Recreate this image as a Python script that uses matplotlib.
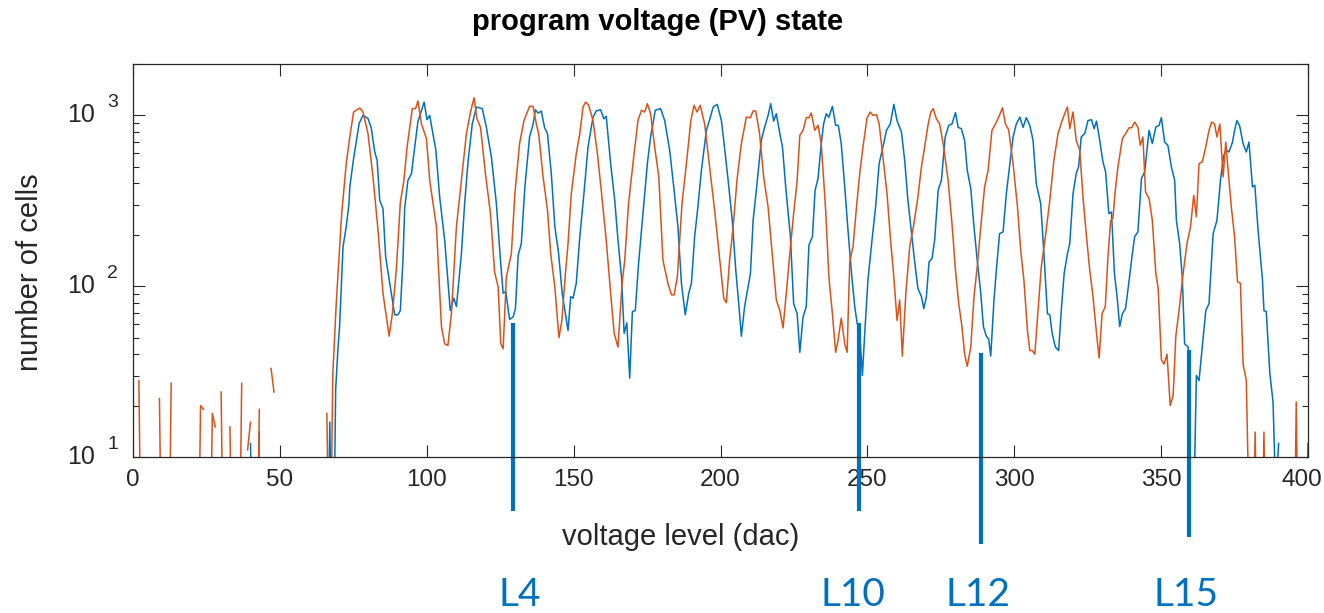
import numpy as np
import matplotlib
matplotlib.use("Agg")
import matplotlib.pyplot as plt
from matplotlib.ticker import NullLocator, NullFormatter, LogLocator
from matplotlib.transforms import blended_transform_factory, ScaledTranslation

plt.rcParams['font.family'] = ['Liberation Sans', 'DejaVu Sans']

# ---- data (0 = empty bin, not drawn on log axis) ----
orange_x = [0, 1, 2, 3, 4, 8, 9, 10, 11, 12, 13, 14, 21, 22, 23, 24, 25, 26, 27, 28,
            29, 30, 31, 32, 33, 34, 35, 36, 37, 38, 39, 40, 41, 42, 43, 44, 46, 47, 48, 49,
            65, 66, 67, 68, 69.2, 71.0, 72.6, 73.8, 75.1, 77.2, 78.3, 80.0, 81.7, 83.4, 85.1,
            87.2, 88.3, 89.7, 91.0, 92.2, 93.3, 95.1, 96.2, 97.0, 98.2, 99.9, 101.0, 103.3,
            105.0, 106.1, 107.2, 108.4, 110.1, 111.8, 113.5, 114.9, 116.1, 117.1, 118.3, 120.1,
            121.7, 123.1, 124.3, 125.2, 126.0, 127.1, 128.8, 130.0, 131.6, 133.1, 135.0, 136.2,
            137.3, 138.1, 139.6, 141.1, 142.2, 143.6, 145.0, 146.0, 147.2, 148.1, 149.2, 150.9,
            152.1, 153.2, 154.1, 155.1, 156.6, 158.1, 159.4, 161.1, 162.6, 163.8, 165.1, 166.5,
            167.4, 168.7, 170.2, 171.9, 173.1, 174.2, 175.1, 176.2, 177.6, 179.0, 180.4, 182.1,
            183.3, 184.2, 185.3, 186.9, 188.4, 189.9, 191.0, 192.0, 193.1, 194.6, 196.3, 198.0,
            199.7, 201.1, 202.0, 203.1, 204.3, 205.6, 207.1, 208.8, 210.2, 211.1, 212.0, 213.3,
            214.7, 216.2, 217.3, 219.0, 220.2, 221.3, 222.4, 223.6, 224.9, 226.1, 227.0, 228.1,
            229.2, 230.1, 230.9, 232.1, 233.2, 234.3, 235.8, 236.9, 238.1, 239.2, 240.0, 241.1,
            242.3, 243.1, 244.0, 245.1, 246.3, 247.4, 248.5, 249.9, 251.0, 251.9, 253.1, 254.0,
            255.3, 256.7, 257.8, 258.9, 260.1, 261.0, 261.9, 263.1, 264.4, 265.8, 267.2, 268.4,
            269.5, 270.7, 271.6, 272.4, 273.5, 274.6, 275.8, 277.5, 278.8, 280.0, 281.1, 282.2,
            283.1, 284.0, 285.2, 286.3, 287.4, 288.6, 289.9, 291.1, 292.4, 293.6, 294.7, 296.0,
            297.0, 298.1, 299.6, 301.1, 302.2, 303.3, 304.5, 305.3, 306.1, 307.0, 308.1, 309.2,
            310.6, 312.1, 313.5, 314.9, 316.3, 317.4, 318.1, 318.9, 320.0, 321.1, 322.3, 323.4,
            324.5, 325.7, 326.8, 328.0, 328.9, 329.9, 331.0, 331.9, 332.8, 333.6, 334.4, 335.3,
            336.8, 337.9, 339.1, 340.0, 341.0, 342.1, 342.9, 343.8, 344.7, 345.9, 347.0, 348.2,
            349.0, 350.1, 351.0, 352.0, 353.1, 354.1, 355.0, 356.1, 357.5, 358.8, 360.0, 361.1,
            362.0, 362.9, 364.0, 365.2, 366.3, 367.2, 368.2, 369.0, 370.0, 371.1, 372.0, 372.8,
            373.9, 375.0, 376.0, 377.0, 377.9, 379.0, 380, 381, 382, 383, 384, 385, 386, 387,
            394, 395, 396, 397, 398, 400]
orange_y = [0, 0, 28, 1, 0, 0, 22, 1, 0, 1, 27, 0, 0, 1, 20, 19, 0, 1, 18, 15,
            0, 24, 1, 0, 15, 1, 0, 1, 27, 0, 11, 16, 0, 1, 19, 0, 0, 33, 24, 0,
            0, 18, 1, 30, 80, 260, 525, 748, 1047, 1104, 1047, 782, 437, 213, 91,
            51, 69, 129, 309, 413, 653, 1097, 1097, 1214, 891, 731, 417, 223,
            58, 46, 45, 69, 223, 417, 782, 1047, 1270, 955, 851, 437,
            266, 121, 99, 46, 43, 113, 155, 347, 684, 933, 1130, 1130,
            891, 782, 437, 279, 155, 99, 50, 63, 118, 178, 347, 597,
            782, 1122, 1197, 1150, 933, 597, 365, 186, 91, 53, 44, 104,
            142, 305, 522, 933, 1072, 1047, 1172, 1023, 653, 437, 142, 104,
            89, 89, 113, 305, 522, 933, 1146, 1047, 1146, 891, 499, 279,
            145, 85, 80, 142, 222, 417, 684, 977, 970, 1062, 1062, 782,
            437, 291, 178, 83, 72, 57, 91, 155, 266, 417, 764, 818,
            970, 970, 1033, 818, 875, 684, 279, 113, 69, 41, 48, 65,
            46, 41, 139, 170, 291, 456, 653, 970, 1047, 1000, 1009, 891,
            571, 347, 195, 119, 63, 83, 39, 91, 170, 230, 333, 499,
            653, 891, 1047, 1096, 955, 891, 684, 417, 233, 124, 79, 58,
            40, 34, 44, 87, 130, 222, 381, 477, 818, 891, 977, 1109,
            891, 824, 522, 291, 162, 108, 55, 42, 42, 40, 72, 130,
            195, 318, 546, 782, 933, 1047, 1119, 836, 1047, 714, 625, 333,
            203, 124, 87, 53, 38, 69, 76, 148, 243, 250, 365, 499,
            731, 782, 847, 847, 914, 851, 668, 748, 356, 326, 243, 119,
            97, 37, 35, 40, 20, 23, 51, 72, 119, 178, 222, 340,
            255, 522, 534, 653, 818, 914, 891, 748, 891, 437, 698, 477,
            291, 195, 106, 104, 35, 28, 4, 1, 14, 1, 1, 14, 1, 0,
            0, 1, 21, 1, 0, 0]

blue_x = [0, 39, 40, 41, 42, 43, 44, 65, 66, 67, 68, 69.0, 69.8, 70.3, 71.5, 72.6, 73.5,
          73.8, 75.1, 77.0, 78.3, 80.0, 81.1, 82.3, 83.1, 84.0, 85.1, 86.0, 87.4, 89.1,
          90.2, 91.0, 91.9, 92.5, 93.6, 94.8, 95.9, 97.0, 99.1, 100.1, 101.0, 103.1, 104.4,
          106.1, 108.0, 109.2, 110.1, 111.8, 112.9, 114.1, 115.5, 116.9, 118.9, 120.3, 122.0,
          123.7, 125.1, 126.0, 126.9, 128.2, 129.4, 130.2, 131.1, 132.2, 133.4, 135.0, 136.2,
          137.0, 137.9, 139.0, 140.1, 141.1, 142.4, 143.6, 144.9, 146.1, 147.2, 148.1, 149.0,
          149.8, 150.9, 152.1, 153.5, 154.9, 156.6, 157.7, 159.2, 160.3, 161.1, 162.6, 164.0,
          165.1, 166.3, 167.2, 168.1, 169.1, 170.0, 171.0, 172.1, 173.6, 175.1, 176.2, 177.8,
          179.6, 181.0, 182.7, 184.2, 185.5, 186.7, 188.0, 189.2, 190.1, 191.2, 192.3, 193.5,
          195.2, 196.3, 197.5, 198.9, 200.3, 201.1, 202.6, 204.0, 205.2, 206.3, 207.1, 208.2,
          209.4, 210.2, 211.1, 212.2, 213.9, 215.0, 216.2, 217.1, 218.1, 219.0, 220.2, 221.1,
          222.2, 223.8, 224.9, 226.1, 227.0, 228.1, 229.2, 230.1, 231.3, 232.2, 233.2, 234.3,
          235.1, 236.0, 236.9, 238.1, 239.2, 240.1, 241.1, 242.3, 243.4, 244.6, 245.7, 246.5,
          247.4, 248.3, 249.1, 250.2, 251.7, 252.8, 254.0, 255.3, 256.5, 257.8, 259.0, 260.1,
          261.6, 262.7, 263.8, 265.3, 266.3, 267.2, 268.4, 269.2, 270.1, 271.0, 272.0, 272.9,
          274.1, 275.2, 276.5, 277.7, 278.8, 280.0, 280.9, 282.0, 283.1, 284.0, 285.2, 286.3,
          287.4, 288.6, 289.5, 290.5, 291.3, 292.0, 293.1, 294.0, 295.0, 296.2, 297.3, 298.4,
          299.6, 300.7, 301.9, 303.0, 304.1, 305.3, 306.4, 307.5, 309.0, 310.1, 311.3, 312.1,
          312.9, 314.0, 315.1, 316.0, 317.0, 318.1, 318.9, 320.0, 321.1, 321.9, 322.8, 324.0,
          325.1, 326.3, 327.2, 328.0, 329.1, 330.2, 331.1, 332.2, 333.1, 334.1, 335.0, 335.9,
          336.8, 337.9, 339.1, 340.2, 341.0, 342.1, 343.3, 344.4, 345.9, 347.0, 348.2, 349.3,
          350.1, 351.2, 352.3, 353.5, 354.6, 355.2, 356.3, 357.2, 358.0, 359.2, 360.2, 361.0,
          362.0, 362.9, 364.0, 365.2, 366.3, 367.7, 369.0, 370.2, 371.3, 372.2, 373.1, 374.3,
          375.0, 375.8, 376.7, 377.9, 379.0, 379.9, 381.1, 381.9, 383.0, 384.5, 385.0, 385.8,
          387.0, 388.1, 389, 390, 391, 398, 399, 400]
blue_y = [0, 0, 12, 1, 1, 14, 0, 0, 1, 16, 1, 25, 44, 57, 170, 224, 302,
          380, 560, 900, 1000, 960, 845, 611, 546, 318, 285, 149, 104, 68,
          68, 72, 142, 288, 417, 456, 653, 920, 1197, 944, 1000, 625, 333,
          186, 72, 85, 76, 155, 305, 546, 891, 1119, 1096, 851, 571,
          305, 142, 91, 93, 64, 66, 74, 151, 178, 380, 748, 891,
          1079, 1032, 1060, 851, 782, 456, 224, 155, 91, 69, 55, 87,
          85, 104, 195, 347, 653, 977, 1062, 1079, 955, 986, 522, 318,
          186, 113, 53, 61, 29, 71, 72, 135, 266, 522, 748, 1072,
          1096, 933, 625, 365, 224, 104, 68, 91, 104, 195, 291, 477,
          818, 944, 1119, 1161, 933, 714, 417, 243, 124, 76, 51, 76,
          99, 119, 243, 365, 714, 851, 1000, 1172, 926, 1023, 782, 653,
          381, 195, 79, 69, 41, 66, 76, 174, 195, 365, 427, 684,
          891, 1023, 977, 1130, 875, 875, 684, 381, 213, 119, 76, 61,
          53, 30, 53, 109, 195, 291, 522, 653, 818, 891, 1161, 933,
          800, 546, 318, 186, 130, 97, 87, 74, 87, 139, 145, 186,
          365, 417, 748, 875, 891, 1038, 851, 836, 714, 477, 373, 222,
          142, 91, 58, 51, 49, 39, 83, 130, 203, 208, 348, 499,
          748, 891, 977, 851, 970, 875, 714, 398, 305, 155, 69, 68,
          53, 44, 42, 72, 119, 155, 178, 348, 456, 499, 748, 782,
          933, 944, 836, 926, 714, 534, 467, 266, 272, 119, 87, 58,
          69, 74, 108, 155, 195, 208, 427, 467, 818, 684, 855, 875,
          970, 698, 668, 499, 417, 243, 178, 113, 46, 44, 5, 4,
          30, 28, 44, 72, 79, 203, 243, 417, 583, 625, 611, 698,
          818, 933, 875, 684, 611, 698, 381, 390, 213, 109, 72, 71,
          31, 21, 6, 12, 0, 0, 1, 12]

# level markers drawn under the axis
level_names = ['L4', 'L10', 'L12', 'L15']
level_x = [129.3, 247.3, 288.8, 359.6]
level_top = [60.5, 60.8, 40.4, 42.3]
level_bottom = [4.8, 4.8, 3.1, 3.4]
level_label_x = [131.6, 245.0, 287.5, 358.4]


def masked(v):
    v = np.asarray(v, dtype=float)
    return np.where(v > 0, v, np.nan)


W, H = 1324, 613
fig = plt.figure(figsize=(W / 100, H / 100), dpi=100)
ax = fig.add_axes([133 / W, 1 - 457 / H, 1175 / W, 393 / H])

ax.plot(blue_x, masked(blue_y), color='#0072BD', lw=1.1)
ax.plot(orange_x, masked(orange_y), color='#D95319', lw=1.1)

ax.set_yscale('log')
ax.set_xlim(0, 400)
ax.set_ylim(10, 2000)

ax.set_xticks(np.arange(0, 401, 50))
ax.xaxis.set_minor_locator(NullLocator())
ax.yaxis.set_major_locator(LogLocator(base=10, numticks=10))
ax.yaxis.set_minor_locator(LogLocator(base=10, subs=np.arange(2, 10), numticks=10))
ax.yaxis.set_major_formatter(NullFormatter())
ax.yaxis.set_minor_formatter(NullFormatter())

ax.tick_params(which='both', direction='in', top=True, right=True, colors='#262626', width=0.8)
ax.tick_params(which='major', length=8.5, labelsize=17.5, pad=9)
ax.tick_params(which='minor', length=4.5)
for s in ax.spines.values():
    s.set_color('#262626')
    s.set_linewidth(0.9)

# last x label sits a bit left so it stays inside the picture
last = ax.get_xticklabels()[-1]
last.set_transform(last.get_transform() + ScaledTranslation(-6 / 100, 0, fig.dpi_scale_trans))

# MATLAB-style 10^n labels
trans = blended_transform_factory(ax.transAxes, ax.transData)
for e in [1, 2, 3]:
    ax.text(-0.0326, 10 ** e, '10', transform=trans, ha='right', va='center',
            fontsize=18, color='#262626')
    ax.annotate(str(e), xy=(-0.0220, 10 ** e), xycoords=trans, xytext=(0, 9),
                textcoords='offset points', ha='left', va='center',
                fontsize=14, color='#262626')

fig.text(658 / W, 1 - 22 / H, 'program voltage (PV) state', ha='center', va='center',
         fontsize=21, fontweight='bold', color='black')
fig.text(681 / W, 1 - 537 / H, 'voltage level (dac)', ha='center', va='center',
         fontsize=21, color='#262626')
fig.text(30 / W, 1 - 272 / H, 'number of cells', ha='center', va='center',
         rotation=90, fontsize=21, color='#262626')

lab_trans = blended_transform_factory(ax.transData, fig.transFigure)
for name, x, top, bot, lx in zip(level_names, level_x, level_top, level_bottom, level_label_x):
    ax.plot([x, x], [bot, top], color='#0070C0', lw=3.0, clip_on=False, solid_capstyle='butt')
    ax.text(lx, 1 - 606 / H, name, transform=lab_trans, ha='center', va='baseline',
            fontsize=28, color='#0070C0', family=['Lato', 'DejaVu Sans'])

fig.savefig('out.png', dpi=100)
